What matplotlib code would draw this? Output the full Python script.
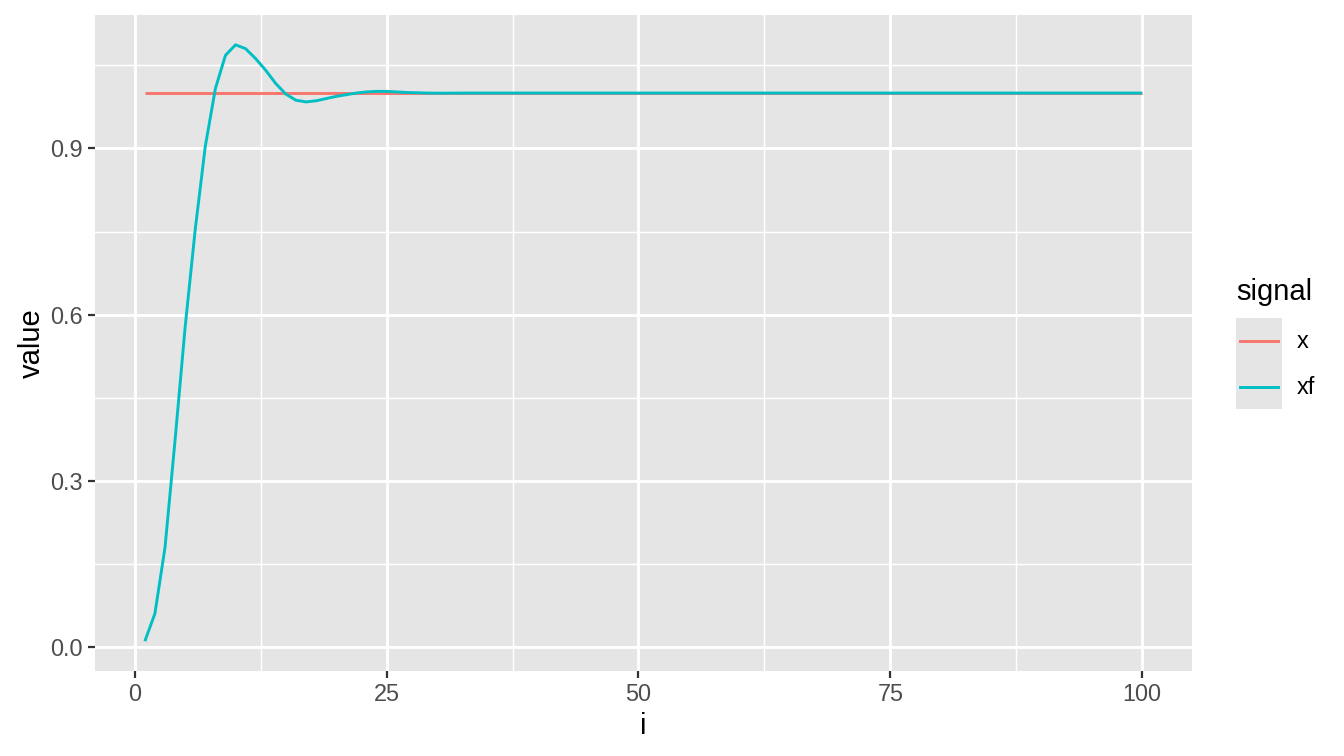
import matplotlib
matplotlib.use("Agg")
import matplotlib.pyplot as plt
from matplotlib.lines import Line2D
from matplotlib.patches import Rectangle

plt.rcParams["font.family"] = ["Liberation Sans", "DejaVu Sans"]

# ---- data ----
i_vals = list(range(1, 101))
x_vals = [1.0] * 100
xf_head = [0.011, 0.061, 0.180, 0.374, 0.578, 0.754, 0.904, 1.008, 1.068, 1.087,
           1.080, 1.062, 1.041, 1.017, 0.998, 0.987, 0.984, 0.986, 0.990, 0.994,
           0.997, 1.000, 1.002, 1.003, 1.003, 1.002, 1.001, 1.0005, 1.0, 0.9998,
           0.9998, 0.9999, 1.0, 1.0, 1.0]
xf_vals = xf_head + [1.0] * (100 - len(xf_head))
series_names = ["x", "xf"]
series_colors = ["#F8766D", "#00BFC4"]
x_ticks = [0, 25, 50, 75, 100]
y_ticks = [0.0, 0.3, 0.6, 0.9]
y_tick_labels = ["0.0", "0.3", "0.6", "0.9"]

W, H = 1344, 756
fig = plt.figure(figsize=(W / 100, H / 100), dpi=100)
ax = fig.add_axes([95 / W, 1 - 671 / H, (1192 - 95) / W, (671 - 15) / H])
ax.set_facecolor("#E5E5E5")

lw = 2.1
ax.plot(i_vals, x_vals, color=series_colors[0], lw=lw, solid_capstyle="butt", zorder=3)
ax.plot(i_vals, xf_vals, color=series_colors[1], lw=lw, solid_capstyle="butt", zorder=3)

ax.set_xlim(1 - 0.05 * 99, 100 + 0.05 * 99)
ymin, ymax = min(xf_vals), max(xf_vals)
rng = ymax - ymin
ax.set_ylim(ymin - 0.05 * rng, ymax + 0.05 * rng)

ax.set_xticks(x_ticks)
ax.set_yticks(y_ticks)
ax.set_yticklabels(y_tick_labels)
ax.set_xticks([12.5, 37.5, 62.5, 87.5], minor=True)
ax.set_yticks([0.15, 0.45, 0.75, 1.05], minor=True)

ax.grid(which="major", color="white", lw=2.1)
ax.grid(which="minor", color="white", lw=1.05)
ax.set_axisbelow(True)
for s in ax.spines.values():
    s.set_visible(False)

ax.tick_params(which="major", length=5.2, width=1.6, color="#333333",
               labelsize=16.9, labelcolor="#4D4D4D", pad=3.5)
ax.tick_params(which="minor", length=0)

ax.set_xlabel("i", fontsize=21, color="black", labelpad=4)
ax.set_ylabel("value", fontsize=21, color="black", labelpad=3)

# legend (ggplot style)
tf = fig.transFigure
def fx(px):
    return px / W
def fy(py):
    return 1 - py / H

fig.text(fx(1236), fy(292), "signal", fontsize=21, ha="left", va="center")
fig.add_artist(Rectangle((fx(1236), fy(409)), fx(1282) - fx(1236), fy(318) - fy(409),
                         transform=tf, facecolor="#E5E5E5", edgecolor="none"))
for k, (name, col) in enumerate(zip(series_names, series_colors)):
    yc = 341 + k * 46
    fig.add_artist(Line2D([fx(1240), fx(1278)], [fy(yc), fy(yc)], transform=tf,
                          color=col, lw=lw))
    fig.text(fx(1297), fy(yc + 1), name, fontsize=16.9, ha="left", va="center")

fig.savefig("out.png", dpi=100)
